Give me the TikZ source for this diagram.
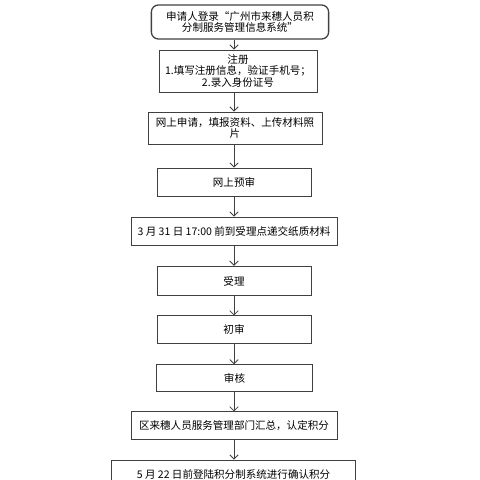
\documentclass[tikz,border=0pt]{standalone}
\usepackage{fontspec}
\setmainfont{Noto Sans CJK SC}
\usetikzlibrary{arrows.meta}

\begin{document}
\begin{tikzpicture}[x=0.025cm, y=-0.025cm,
  passo/.style={draw=black!75, line width=0.6pt, align=center,
    inner sep=1pt, font=\fontsize{7.5}{8.4}\selectfont},
  freccia/.style={draw=black!75, line width=0.6pt,
    -{Straight Barb[length=3pt,width=6pt]}}]
  \useasboundingbox (0,0) rectangle (480,480);

  %–– Riquadri ––
  % inizio (arrotondato)
  \node[passo, rounded corners=5pt, line width=0.9pt,
    minimum width=4.43cm, minimum height=0.85cm] (login) at (240,22)
    {申请人登录“广州市来穗人员积\\分制服务管理信息系统”};
  \node[passo, minimum width=3.95cm, minimum height=1.05cm] (registra) at (238,71)
    {注册\\1.填写注册信息，验证手机号；\\2.录入身份证号};
  \node[passo, minimum width=4.35cm, minimum height=0.8cm] (domanda) at (235,128)
    {网上申请，填报资料、上传材料照\\片};
  \node[passo, minimum width=3.85cm, minimum height=0.72cm] (preesame) at (234,182.5)
    {网上预审};
  \node[passo, minimum width=5.15cm, minimum height=0.72cm] (consegna) at (234,231.5)
    {3 月 31 日 17:00 前到受理点递交纸质材料};
  \node[passo, minimum width=3.85cm, minimum height=0.74cm] (accetta) at (234,281)
    {受理};
  \node[passo, minimum width=3.85cm, minimum height=0.68cm] (primo) at (234,329.5)
    {初审};
  \node[passo, minimum width=3.88cm, minimum height=0.66cm] (verifica) at (234.5,378)
    {审核};
  \node[passo, minimum width=5.15cm, minimum height=0.68cm] (riepilogo) at (234,425.5)
    {区来穗人员服务管理部门汇总，认定积分};
  \node[passo, minimum width=6.08cm, minimum height=0.7cm] (conferma) at (233.5,474)
    {5 月 22 日前登陆积分制系统进行确认积分};

  %–– Frecce ––
  \foreach \da/\a in {login/registra, registra/domanda, domanda/preesame,
      preesame/consegna, consegna/accetta, accetta/primo, primo/verifica,
      verifica/riepilogo, riepilogo/conferma}
    \draw[freccia] (\da.south -| preesame.center) -- (\a.north -| preesame.center);
\end{tikzpicture}
\end{document}
